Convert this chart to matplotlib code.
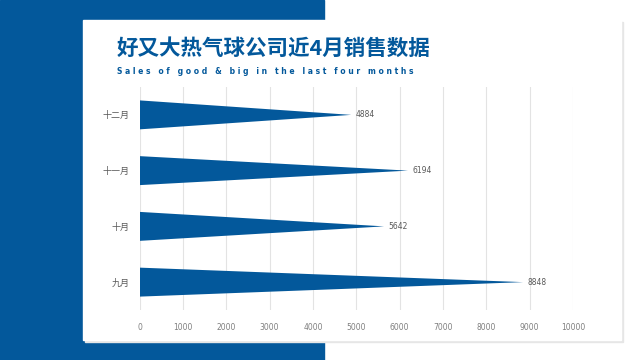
import matplotlib
matplotlib.use('Agg')
import matplotlib.pyplot as plt
from matplotlib.patches import Rectangle

plt.rcParams['font.family'] = ['Noto Sans CJK SC', 'DejaVu Sans']

# данные
months = ['九月', '十月', '十一月', '十二月']
sales = [8848, 5642, 6194, 4884]
x_ticks = list(range(0, 10001, 1000))
title = '好又大热气球公司近4月销售数据'
subtitle = 'Sales of good & big in the last four months'

blue = '#03589B'

fig = plt.figure(figsize=(6.4, 3.6), dpi=100)

# фон: синяя панель слева и белая карточка
fig.patches.append(Rectangle((0, 0), 324 / 640, 1, transform=fig.transFigure,
                             color=blue, zorder=0))
fig.patches.append(Rectangle((85 / 640, 18 / 360), 538 / 640, 320 / 360,
                             transform=fig.transFigure, color='#E6E6E6', zorder=1))
fig.patches.append(Rectangle((83 / 640, 20 / 360), 538 / 640, 320 / 360,
                             transform=fig.transFigure, color='white', zorder=2))

fig.text(117 / 640, 1 - 48 / 360, title, color=blue, fontsize=15.5,
         fontweight='bold', va='center', ha='left', zorder=5)
fig.text(117 / 640, 1 - 71 / 360, ' '.join(subtitle), color=blue, fontsize=5.5,
         fontweight='bold', va='center', ha='left', zorder=5,
         family=['DejaVu Sans'])

ax = fig.add_axes([139.5 / 640, 50 / 360, 433.5 / 640, 223 / 360], zorder=3)
ax.patch.set_alpha(0)

h = 0.52
for i, v in enumerate(sales):
    ax.fill([0, v, 0], [i - h / 2, i, i + h / 2], color=blue, lw=0, zorder=3)
    ax.text(v + 110, i, str(v), fontsize=5.5, color='#595959', va='center',
            ha='left', family=['DejaVu Sans'])

ax.set_xlim(0, 10000)
ax.set_ylim(-0.5, 3.5)
ax.set_xticks(x_ticks)
ax.set_xticklabels([str(t) for t in x_ticks], family=['DejaVu Sans'])
ax.set_yticks(range(len(months)))
ax.set_yticklabels(months)
ax.grid(axis='x', color='#E3E3E3', lw=0.8, zorder=0)
ax.set_axisbelow(True)
for s in ax.spines.values():
    s.set_visible(False)
ax.tick_params(axis='x', length=0, labelsize=5.5, labelcolor='#7F7F7F', pad=9)
ax.tick_params(axis='y', length=0, labelsize=6.5, labelcolor='#595959', pad=7)

fig.savefig('out.png', dpi=100)
